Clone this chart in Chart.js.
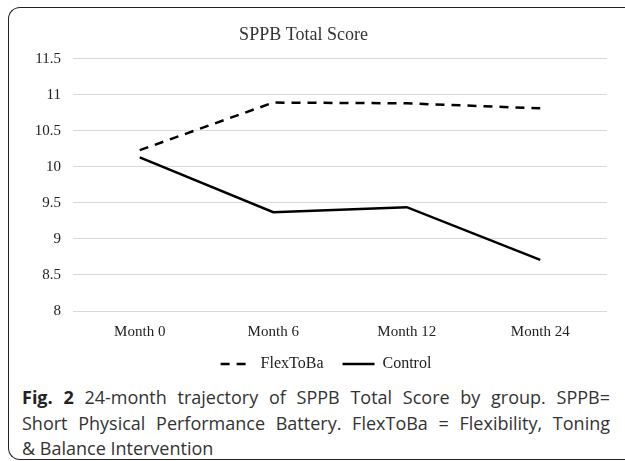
<!DOCTYPE html>
<html lang="en">
<head>
  <meta charset="UTF-8">
  <title>SPPB Total Score</title>
  <script src="https://cdn.jsdelivr.net/npm/chart.js"></script>
  <style>
    body {
      margin: 0;
      background: #fff;
      width: 625px;
      height: 461px;
      overflow: hidden;
      position: relative;
    }
    #frame {
      position: absolute;
      left: 8px;
      top: 7px;
      width: 640px;
      height: 451px;
      border-left: 1.5px solid #222;
      border-top: 1.5px solid #222;
      border-bottom: 1.5px solid #222;
      border-top-left-radius: 12px;
      border-bottom-left-radius: 12px;
    }
    #chartBox {
      position: absolute;
      left: 0;
      top: 0;
      width: 625px;
      height: 382px;
    }
    #caption {
      position: absolute;
      left: 22px;
      top: 385px;
      width: 588px;
      font-family: "Open Sans", sans-serif;
      font-size: 18px;
      line-height: 25.5px;
      color: #333;
    }
    #caption .j {
      display: block;
      white-space: nowrap;
      text-align: justify;
      text-align-last: justify;
    }
    #caption b { color: #222; }
  </style>
</head>
<body>
  <div id="frame"></div>
  <div id="chartBox"><canvas id="chart"></canvas></div>
  <div id="caption">
    <span class="j"><b>Fig. 2</b> 24-month trajectory of SPPB Total Score by group. SPPB=</span>
    <span class="j">Short Physical Performance Battery. FlexToBa = Flexibility, Toning</span>
    <span>&amp; Balance Intervention</span>
  </div>

  <script>
    // values
    const months = ['Month 0', 'Month 6', 'Month 12', 'Month 24'];
    const flexToBa = [10.23, 10.89, 10.88, 10.81];
    const control = [10.13, 9.37, 9.44, 8.71];

    const serif = '"Liberation Serif", "Times New Roman", serif';
    Chart.defaults.font.family = serif;
    Chart.defaults.color = '#222';

    const ctx = document.getElementById('chart').getContext('2d');
    new Chart(ctx, {
      type: 'line',
      data: {
        labels: months,
        datasets: [
          {
            label: 'FlexToBa',
            data: flexToBa,
            borderColor: '#000',
            backgroundColor: '#000',
            borderWidth: 2.5,
            borderDash: [9, 7],
            pointRadius: 0,
            pointStyle: 'line',
            tension: 0,
            fill: false
          },
          {
            label: 'Control',
            data: control,
            borderColor: '#000',
            backgroundColor: '#000',
            borderWidth: 2.5,
            pointRadius: 0,
            pointStyle: 'line',
            tension: 0,
            fill: false
          }
        ]
      },
      options: {
        responsive: true,
        maintainAspectRatio: false,
        animation: false,
        layout: {
          padding: { left: 0, right: 18, top: 0, bottom: 0 }
        },
        plugins: {
          title: {
            display: true,
            text: 'SPPB Total Score',
            color: '#333',
            font: { family: serif, size: 18, weight: 'normal' },
            padding: { top: 24, bottom: 13 }
          },
          legend: {
            position: 'bottom',
            fullSize: false,
            labels: {
              color: '#222',
              font: { family: serif, size: 16 },
              usePointStyle: true,
              pointStyleWidth: 32,
              padding: 3,
              // point-style legend items lose the dash, so put it back
              generateLabels: function(chart) {
                const items = Chart.defaults.plugins.legend.labels.generateLabels(chart);
                items.forEach(function(item) {
                  const ds = chart.data.datasets[item.datasetIndex];
                  item.lineDash = ds.borderDash || [];
                  item.lineWidth = 2.5;
                  item.strokeStyle = '#000';
                  // trailing spaces widen the gap between the two entries
                  item.text = item.text + (item.datasetIndex === 0 ? '    ' : '       ');
                });
                return items;
              }
            }
          },
          tooltip: { enabled: false }
        },
        scales: {
          x: {
            offset: true,
            grid: { display: false, drawTicks: false },
            border: { display: false },
            ticks: {
              color: '#222',
              font: { family: serif, size: 15 },
              padding: 12
            }
          },
          y: {
            min: 8,
            max: 11.5,
            afterFit: function(scale) { scale.width = 73; },
            grid: { color: '#d9d9d9', lineWidth: 1, drawTicks: false },
            border: { display: false },
            ticks: {
              stepSize: 0.5,
              color: '#222',
              font: { family: serif, size: 15 },
              padding: 12,
              callback: function(v) { return String(Math.round(v * 10) / 10); }
            }
          }
        }
      }
    });
  </script>
</body>
</html>
